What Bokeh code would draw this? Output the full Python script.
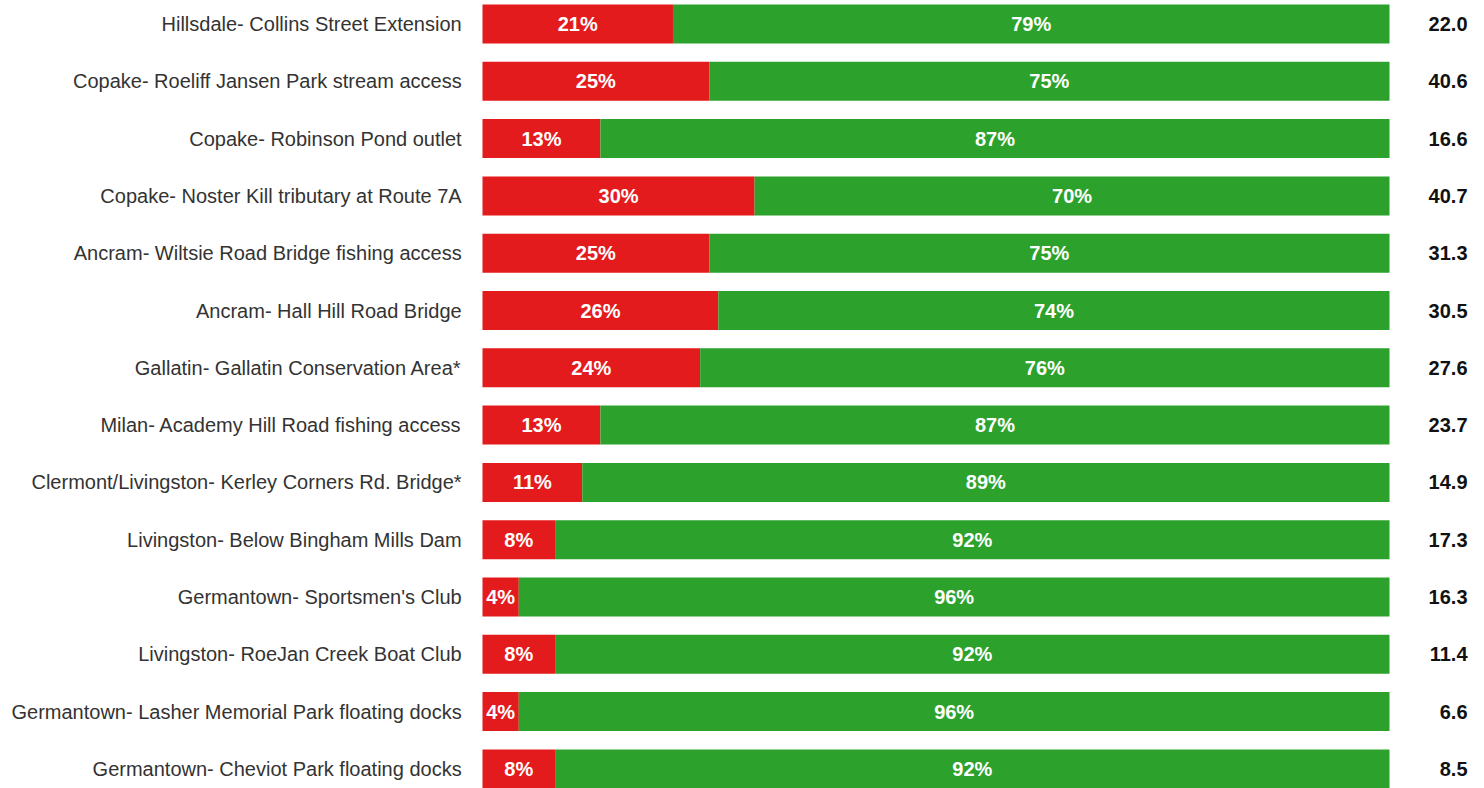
from bokeh.plotting import figure
from bokeh.models import Range1d, ColumnDataSource
from bokeh.core.properties import value
from bokeh.embed import file_html
from bokeh.resources import INLINE

sites = [
    "Hillsdale- Collins Street Extension",
    "Copake- Roeliff Jansen Park stream access",
    "Copake- Robinson Pond outlet",
    "Copake- Noster Kill tributary at Route 7A",
    "Ancram- Wiltsie Road Bridge fishing access",
    "Ancram- Hall Hill Road Bridge",
    "Gallatin- Gallatin Conservation Area*",
    "Milan- Academy Hill Road fishing access",
    "Clermont/Livingston- Kerley Corners Rd. Bridge*",
    "Livingston- Below Bingham Mills Dam",
    "Germantown- Sportsmen's Club",
    "Livingston- RoeJan Creek Boat Club",
    "Germantown- Lasher Memorial Park floating docks",
    "Germantown- Cheviot Park floating docks",
]
red_pct = [21, 25, 13, 30, 25, 26, 24, 13, 11, 8, 4, 8, 4, 8]
green_pct = [79, 75, 87, 70, 75, 74, 76, 87, 89, 92, 96, 92, 96, 92]
totals = ["22.0", "40.6", "16.6", "40.7", "31.3", "30.5", "27.6", "23.7",
          "14.9", "17.3", "16.3", "11.4", "6.6", "8.5"]

RED = "#E31B1D"
GREEN = "#2CA22C"
FONT = "Liberation Sans"

n = len(sites)
rows = list(range(n))
src = ColumnDataSource(dict(
    y=rows,
    site=sites,
    red=red_pct,
    green_start=red_pct,
    green_end=[r + g for r, g in zip(red_pct, green_pct)],
    red_mid=[r / 2 for r in red_pct],
    green_mid=[r + g / 2 for r, g in zip(red_pct, green_pct)],
    red_lbl=[f"{r}%" for r in red_pct],
    green_lbl=[f"{g}%" for g in green_pct],
    total=totals,
    zero=[0] * n,
    lbl_x=[-2.3] * n,
    tot_x=[108.6] * n,
))

W, H = 1484, 788
px_per_pct = 9.07
bar_left = 482
pitch = 57.3
first_center = 23.5

p = figure(width=W, height=H, output_backend="svg", toolbar_location=None,
           x_range=Range1d(-bar_left / px_per_pct, (W - bar_left) / px_per_pct),
           y_range=Range1d((H - first_center) / pitch, -first_center / pitch),
           min_border=0, outline_line_color=None)
p.axis.visible = False
p.grid.visible = False
p.background_fill_color = "white"
p.border_fill_color = "white"

p.hbar(y="y", left="zero", right="red", height=0.68, source=src,
       fill_color=RED, line_color=None)
p.hbar(y="y", left="green_start", right="green_end", height=0.68, source=src,
       fill_color=GREEN, line_color=None)

p.text(x="red_mid", y="y", text="red_lbl", source=src, text_color="white",
       text_font=value(FONT), text_font_style="bold", text_font_size="20px",
       text_align="center", text_baseline="middle")
p.text(x="green_mid", y="y", text="green_lbl", source=src, text_color="white",
       text_font=value(FONT), text_font_style="bold", text_font_size="20px",
       text_align="center", text_baseline="middle")
p.text(x="lbl_x", y="y", text="site", source=src, text_color="#333333",
       text_font=value(FONT), text_font_size="20px",
       text_align="right", text_baseline="middle")
p.text(x="tot_x", y="y", text="total", source=src, text_color="#111111",
       text_font=value(FONT), text_font_style="bold", text_font_size="20px",
       text_align="right", text_baseline="middle")

open("out.html", "w").write(file_html(p, INLINE))
